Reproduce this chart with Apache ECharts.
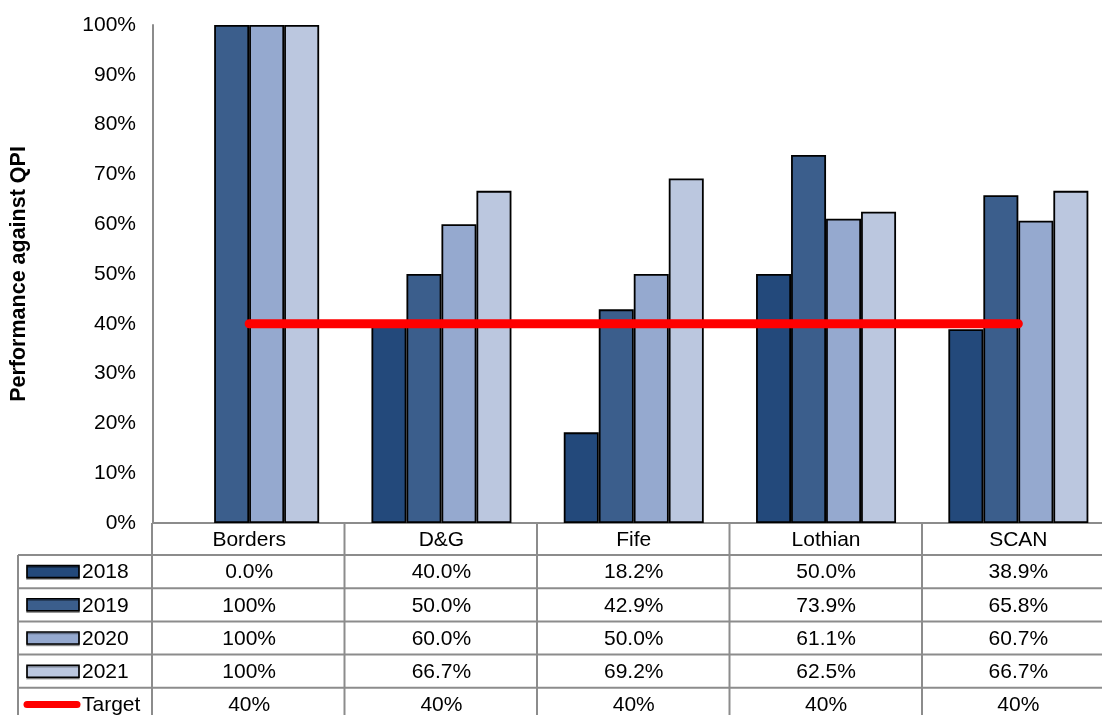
<!DOCTYPE html>
<html>
<head>
<meta charset="utf-8">
<script src="https://cdn.jsdelivr.net/npm/echarts@6/dist/echarts.min.js"></script>
<style>
  html, body { margin: 0; padding: 0; background: #fff; overflow: hidden; }
  #chart { width: 1120px; height: 715px; }
</style>
</head>
<body>
<div id="chart"></div>
<script>
// QPI performance by region, 2018-2021, with the 40% target
const categories = ['Borders', 'D&G', 'Fife', 'Lothian', 'SCAN'];
const years = ['2018', '2019', '2020', '2021'];
const v2018 = [0.0, 40.0, 18.2, 50.0, 38.9];
const v2019 = [100, 50.0, 42.9, 73.9, 65.8];
const v2020 = [100, 60.0, 50.0, 61.1, 60.7];
const v2021 = [100, 66.7, 69.2, 62.5, 66.7];
const target = [40, 40, 40, 40, 40];
const yTicks = [0, 10, 20, 30, 40, 50, 60, 70, 80, 90, 100];

const yearValues = [v2018, v2019, v2020, v2021];
const yearColors = ['#23497b', '#3b5e8c', '#95a9cf', '#bbc7df'];
const targetColor = '#ff0000';
const lineGray = '#8c8c8c';
const FONT = '"Liberation Sans", Arial, sans-serif';
const FS = 21;

const G = { left: 152, top: 25, width: 962.5, height: 498 };

const chart = echarts.init(document.getElementById('chart'), null, { renderer: 'canvas' });

function fmtCell(v) {
  return v === 100 ? '100%' : v.toFixed(1) + '%';
}

const barSeries = years.map((y, i) => ({
  name: y,
  type: 'bar',
  barWidth: 35,
  barGap: '0%',
  data: yearValues[i].map(v => v === 0 ? { value: v, itemStyle: { borderWidth: 0 } } : v),
  itemStyle: { color: yearColors[i], borderColor: '#000', borderWidth: 1.8 },
  emphasis: { disabled: true },
  z: 2
}));

chart.setOption({
  animation: false,
  backgroundColor: '#fff',
  textStyle: { fontFamily: FONT },
  grid: { left: G.left, top: G.top, width: G.width, height: G.height, containLabel: false },
  xAxis: {
    type: 'category',
    data: categories,
    axisLine: { show: true, lineStyle: { color: lineGray, width: 2 } },
    axisTick: { show: false },
    axisLabel: { color: '#000', fontSize: FS, fontFamily: FONT, margin: 7 },
    splitLine: { show: false }
  },
  yAxis: {
    type: 'value',
    min: yTicks[0],
    max: yTicks[yTicks.length - 1],
    interval: 10,
    name: 'Performance against QPI',
    nameLocation: 'middle',
    nameRotate: 90,
    nameGap: 123,
    nameTextStyle: { color: '#000', fontSize: 21.5, fontWeight: 'bold', fontFamily: FONT },
    axisLine: { show: true, lineStyle: { color: lineGray, width: 2 } },
    axisTick: { show: false },
    splitLine: { show: false },
    axisLabel: { color: '#000', fontSize: FS, fontFamily: FONT, margin: 17, formatter: v => v + '%' }
  },
  series: barSeries.concat([{
    name: 'Target',
    type: 'line',
    data: target,
    symbol: 'none',
    lineStyle: { color: targetColor, width: 9, cap: 'round' },
    emphasis: { disabled: true },
    z: 5
  }])
});

// Data table beneath the plot
const headerTop = G.top + G.height;
const headerH = 32;
const rowH = 33.2;
const tableLeft = 18;
const tableBottom = 760;
const band = G.width / categories.length;
const centers = categories.map((c, i) => chart.convertToPixel({ xAxisIndex: 0 }, i));

const els = [];
const lineStyle = { stroke: lineGray, lineWidth: 2 };

// column separators
for (let i = 0; i <= categories.length; i++) {
  const x = G.left + band * i;
  els.push({ type: 'line', shape: { x1: x, y1: headerTop, x2: x, y2: tableBottom }, style: lineStyle, z: 10 });
}
// left border of the label column
els.push({ type: 'line', shape: { x1: tableLeft, y1: headerTop + headerH, x2: tableLeft, y2: tableBottom }, style: lineStyle, z: 10 });

const rows = years.map((y, i) => ({ label: y, kind: 'bar', color: yearColors[i], cells: yearValues[i].map(fmtCell) }));
rows.push({ label: 'Target', kind: 'line', color: targetColor, cells: target.map(v => v + '%') });

rows.forEach((r, ri) => {
  const top = headerTop + headerH + rowH * ri;
  const mid = top + rowH / 2;
  els.push({ type: 'line', shape: { x1: tableLeft, y1: top, x2: G.left + G.width, y2: top }, style: lineStyle, z: 10 });
  if (r.kind === 'bar') {
    els.push({ type: 'rect', shape: { x: 27, y: mid - 6, width: 52, height: 12 },
      style: { fill: r.color, stroke: '#000', lineWidth: 1.6, shadowColor: 'rgba(0,0,0,0.35)', shadowOffsetY: 1.5 }, z: 11 });
  } else {
    els.push({ type: 'line', shape: { x1: 27, y1: mid, x2: 77, y2: mid },
      style: { stroke: r.color, lineWidth: 7, lineCap: 'round' }, z: 11 });
  }
  els.push({ type: 'text', x: 82, y: mid + 1,
    style: { text: r.label, font: FS + 'px ' + FONT, fill: '#000', align: 'left', verticalAlign: 'middle' }, z: 11 });
  r.cells.forEach((t, ci) => {
    els.push({ type: 'text', x: centers[ci], y: mid + 1,
      style: { text: t, font: FS + 'px ' + FONT, fill: '#000', align: 'center', verticalAlign: 'middle' }, z: 11 });
  });
});

chart.setOption({ graphic: { elements: els } });
</script>
</body>
</html>
